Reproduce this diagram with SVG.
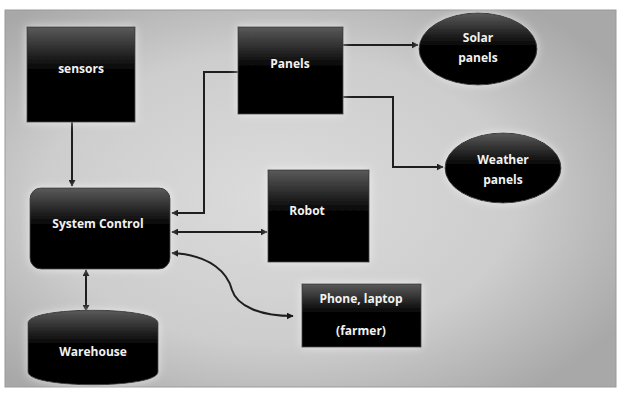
<svg xmlns="http://www.w3.org/2000/svg" width="626" height="394" viewBox="0 0 626 394">
<defs>
<radialGradient id="bg" cx="0.45" cy="0.5" r="0.65">
<stop offset="0" stop-color="#dcdcdc"/>
<stop offset="0.6" stop-color="#cdcdcd"/>
<stop offset="1" stop-color="#a8a8a8"/>
</radialGradient>
<linearGradient id="box" x1="0" y1="0" x2="0" y2="1">
<stop offset="0" stop-color="#5a5a5a"/>
<stop offset="0.45" stop-color="#050505"/>
<stop offset="1" stop-color="#000"/>
</linearGradient>
<filter id="glow" x="-20%" y="-20%" width="140%" height="140%">
<feGaussianBlur in="SourceAlpha" stdDeviation="4"/>
<feComponentTransfer><feFuncA type="linear" slope="0.6"/></feComponentTransfer>
<feColorMatrix type="matrix" values="0 0 0 0 1 0 0 0 0 1 0 0 0 0 1 0 0 0 1 0"/>
<feMerge><feMergeNode/><feMergeNode in="SourceGraphic"/></feMerge>
</filter>
<marker id="ah" viewBox="0 0 10 10" refX="9" refY="5" markerWidth="7" markerHeight="7" markerUnits="userSpaceOnUse" orient="auto-start-reverse">
<path d="M0,0 L10,5 L0,10 z" fill="#1a1a1a"/>
</marker>
</defs>
<style>
.n{fill:url(#box);stroke:#3a3a3a;stroke-width:1;filter:url(#glow)}
.t{font-family:"Open Sans","Liberation Sans",sans-serif;font-weight:bold;font-size:12px;fill:#f2f2f2;text-anchor:middle}
.c{fill:none;stroke:#1e1e1e;stroke-width:2}
</style>
<rect width="626" height="394" fill="#fff"/>
<rect x="5" y="10" width="611" height="377" fill="url(#bg)" stroke="#9a9a9a" stroke-width="1"/>
<g id="connectors">
<path class="c" d="M72,122 V186" marker-end="url(#ah)"/>
<path class="c" d="M238,72 H204 V213 H172" marker-end="url(#ah)"/>
<path class="c" d="M343,45 H418" marker-end="url(#ah)"/>
<path class="c" d="M343,97 H393 V167 H443" marker-end="url(#ah)"/>
<path class="c" d="M172,232 H267" marker-start="url(#ah)" marker-end="url(#ah)"/>
<path class="c" d="M172,253 C212,255 228,274 232,290 C237,306 260,316 293,316" marker-start="url(#ah)" marker-end="url(#ah)"/>
<path class="c" d="M86,270 V311" marker-start="url(#ah)" marker-end="url(#ah)"/>
</g>
<g id="sensors">
<rect class="n" x="27" y="27" width="108" height="95"/>
<text class="t" x="81" y="73">sensors</text>
</g>
<g id="panels">
<rect class="n" x="238" y="27" width="105" height="87"/>
<text class="t" x="290" y="68">Panels</text>
</g>
<g id="solar">
<ellipse class="n" cx="478" cy="49" rx="59" ry="36"/>
<text class="t" x="478" y="42">Solar</text>
<text class="t" x="478" y="62">panels</text>
</g>
<g id="weather">
<ellipse class="n" cx="503" cy="168" rx="58" ry="35"/>
<text class="t" x="503" y="164">Weather</text>
<text class="t" x="503" y="184">panels</text>
</g>
<g id="system-control">
<rect class="n" x="30" y="188" width="140" height="81" rx="11"/>
<text class="t" x="98" y="228">System Control</text>
</g>
<g id="robot">
<rect class="n" x="268" y="170" width="101" height="92"/>
<text class="t" x="307" y="215">Robot</text>
</g>
<g id="phone">
<rect class="n" x="302" y="284" width="119" height="63"/>
<text class="t" x="361" y="303">Phone, laptop</text>
<text class="t" x="361" y="335">(farmer)</text>
</g>
<g id="warehouse">
<path class="n" d="M28,323 C28,306 158,306 158,323 V372 C158,389 28,389 28,372 Z"/>
<text class="t" x="93" y="356">Warehouse</text>
</g>
</svg>
